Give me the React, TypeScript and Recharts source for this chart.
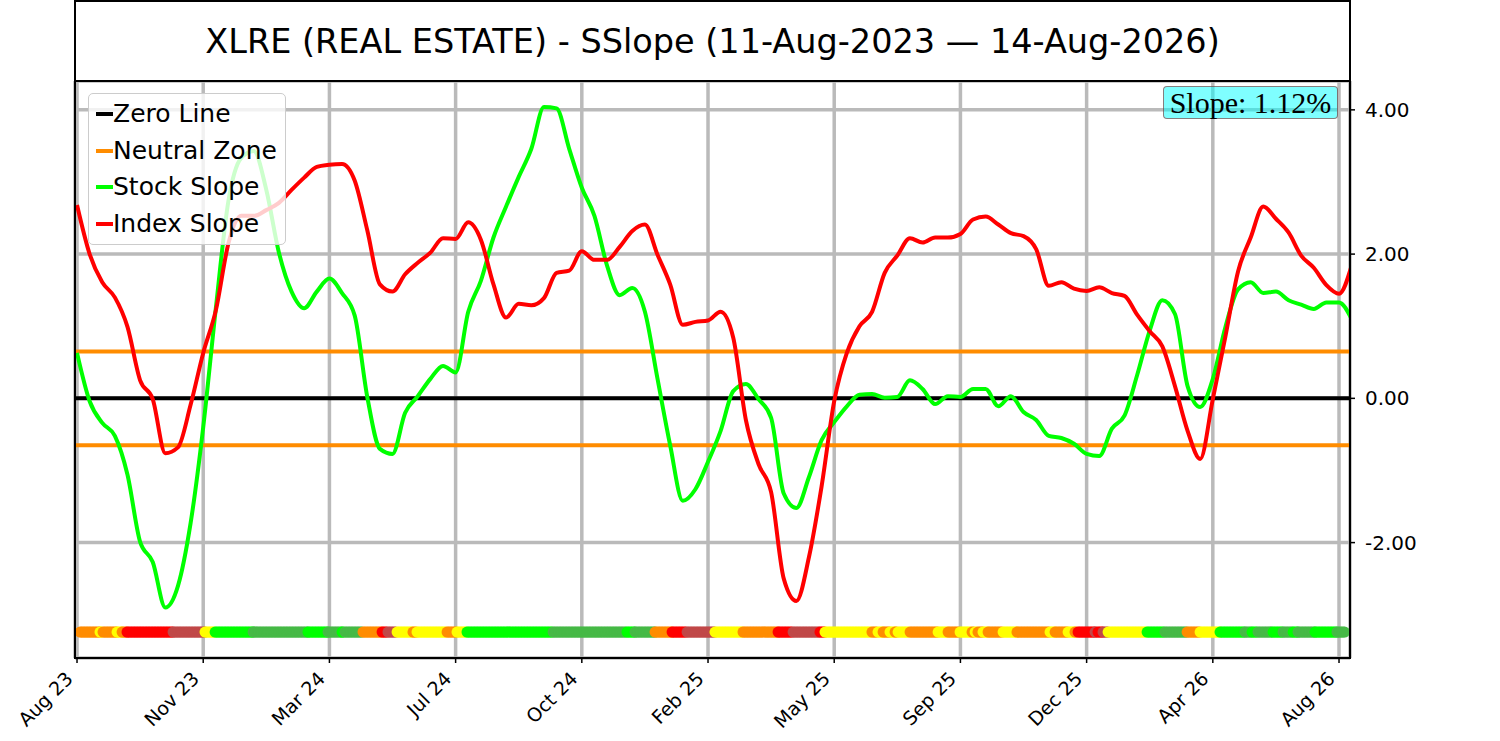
import {
  CartesianGrid,
  ComposedChart,
  Line,
  ReferenceLine,
  Scatter,
  XAxis,
  YAxis,
} from "recharts";

// x is a sample index: 10 samples per month tick
const X_TICKS = [0, 10, 20, 30, 40, 50, 60, 70, 80, 90, 100];
const MONTH_LABELS = ["Aug 23", "Nov 23", "Mar 24", "Jul 24", "Oct 24", "Feb 25", "May 25", "Sep 25", "Dec 25", "Apr 26", "Aug 26"];
const Y_TICKS = [-2, 0, 2, 4];

const STOCK_SLOPE = [
  0.63, -0.04, -0.34, -0.52, -1.06, -1.99, -2.27, -2.9, -2.6, -1.73,
  -0.4, 1.25, 2.74, 3.33, 3.43, 2.89, 2.02, 1.48, 1.25, 1.48,
  1.66, 1.46, 1.15, 0.02, -0.7, -0.77, -0.2, 0.03, 0.27, 0.45,
  0.36, 1.2, 1.63, 2.23, 2.66, 3.07, 3.46, 4.04, 4.02, 3.46,
  2.92, 2.53, 1.84, 1.43, 1.53, 1.2, 0.27, -0.65, -1.42, -1.26,
  -0.88, -0.45, 0.1, 0.2, -0.01, -0.27, -1.32, -1.52, -1.09, -0.58,
  -0.33, -0.11, 0.05, 0.06, 0.01, 0.02, 0.25, 0.13, -0.08, 0.03,
  0.02, 0.13, 0.13, -0.11, 0.03, -0.19, -0.3, -0.52, -0.55, -0.63,
  -0.77, -0.8, -0.42, -0.24, 0.32, 0.94, 1.36, 1.17, 0.17, -0.12,
  0.27, 0.99, 1.51, 1.61, 1.46, 1.48, 1.36, 1.3, 1.24, 1.33,
  1.33, 1.1,
];

const INDEX_SLOPE = [
  2.68, 2.0, 1.61, 1.4, 0.99, 0.25, -0.01, -0.76, -0.68, -0.09,
  0.63, 1.22, 2.15, 2.53, 2.53, 2.61, 2.71, 2.89, 3.06, 3.21,
  3.24, 3.25, 3.02, 2.33, 1.58, 1.48, 1.72, 1.88, 2.02, 2.22,
  2.21, 2.44, 2.2, 1.58, 1.12, 1.31, 1.29, 1.39, 1.74, 1.77,
  2.04, 1.92, 1.92, 2.1, 2.32, 2.41, 1.99, 1.58, 1.02, 1.06,
  1.08, 1.2, 0.84, -0.3, -0.91, -1.3, -2.5, -2.81, -2.2, -1.22,
  -0.04, 0.63, 1.0, 1.2, 1.74, 1.98, 2.22, 2.16, 2.23, 2.23,
  2.28, 2.48, 2.52, 2.41, 2.29, 2.25, 2.07, 1.56, 1.61, 1.52,
  1.49, 1.54, 1.46, 1.42, 1.16, 0.93, 0.72, 0.17, -0.45, -0.84,
  -0.01, 0.86, 1.76, 2.23, 2.66, 2.49, 2.3, 1.98, 1.81, 1.57,
  1.45, 1.84,
];

const ZERO_LEVEL = 0;
const NEUTRAL_HI = 0.65;
const NEUTRAL_LO = -0.65;

// signal band along the bottom: each run starts at an index and keeps its colour until the next
const BAND_LEVEL = -3.24;
const BAND_END = 100.48;
const BAND_STARTS = [
  0.24, 1.82, 2.06, 3.17, 3.57, 3.96, 7.61, 10.14, 10.94, 13.95,
  18.3, 19.89, 21.0, 21.24, 22.66, 24.17, 24.64, 25.36, 26.62, 26.94,
  29.32, 30.11, 30.9, 37.72, 43.58, 44.22, 45.8, 47.15, 48.34, 50.55,
  52.77, 55.55, 56.74, 58.87, 59.27, 62.99, 63.47, 63.87, 64.42, 64.82,
  65.06, 66.01, 68.23, 69.02, 69.97, 70.92, 71.16, 71.39, 71.79, 72.19,
  73.38, 74.48, 77.1, 77.5, 78.53, 79.08, 79.32, 80.67, 80.9, 81.3,
  81.7, 84.79, 86.21, 87.96, 88.99, 90.57, 92.55, 93.11, 93.58, 94.77,
  95.56, 96.36, 96.75, 98.1, 99.84,
];
const BAND_COLORS = [
  "O", "Y", "O", "Y", "O", "R", "B", "Y", "G", "M",
  "G", "M", "G", "M", "O", "R", "B", "Y", "O", "Y",
  "O", "Y", "G", "M", "G", "M", "O", "R", "B", "Y",
  "O", "R", "B", "R", "Y", "O", "Y", "O", "Y", "O",
  "Y", "O", "Y", "O", "Y", "O", "Y", "O", "Y", "O",
  "Y", "O", "Y", "O", "Y", "O", "R", "B", "R", "B",
  "Y", "G", "M", "O", "Y", "G", "M", "G", "M", "G",
  "M", "G", "M", "G", "M",
];
const BAND_PALETTE: Record<string, string> = {
  O: "#ff8c00",
  Y: "#ffff00",
  R: "#ff0000",
  B: "#c04848",
  G: "#00ff00",
  M: "#46b946",
};

const LEGEND_ITEMS = [
  { label: "Zero Line", color: "#000000" },
  { label: "Neutral Zone", color: "#ff8c00" },
  { label: "Stock Slope", color: "#00ff00" },
  { label: "Index Slope", color: "#ff0000" },
];

const rows = STOCK_SLOPE.map((v, i) => ({ idx: i, stock: v, index: INDEX_SLOPE[i] }));

const DOT_STEP = 0.12;
const bandDots: { idx: number; band: number; color: string }[] = [];
BAND_STARTS.forEach((s, k) => {
  const last = k === BAND_STARTS.length - 1;
  const end = last ? BAND_END : BAND_STARTS[k + 1];
  for (let x = s; last ? x <= end : x < end - 1e-9; x += DOT_STEP) {
    bandDots.push({ idx: x, band: BAND_LEVEL, color: BAND_PALETTE[BAND_COLORS[k]] });
  }
});

const FONT = "DejaVu Sans";

function MonthTick(props: any) {
  const { x, payload } = props;
  const label = MONTH_LABELS[X_TICKS.indexOf(payload.value)] ?? "";
  const ax = x - 3;
  const ay = 680;
  return (
    <text
      x={ax}
      y={ay}
      textAnchor="end"
      transform={`rotate(-45 ${ax} ${ay})`}
      fontSize={19}
      fontFamily={FONT}
      fill="#000"
    >
      {label}
    </text>
  );
}

function BandDot(props: any) {
  const { cx, cy, payload } = props;
  if (cx == null || cy == null) return null;
  return <circle cx={cx} cy={cy} r={5.5} fill={payload.color} />;
}

export default function App() {
  return (
    <div
      style={{
        position: "absolute",
        left: 0,
        top: 0,
        width: 1500,
        height: 741,
        background: "#fff",
        fontFamily: FONT,
        overflow: "hidden",
      }}
    >
      <ComposedChart
        width={1500}
        height={741}
        data={rows}
        margin={{ top: 81, right: 70, bottom: 23, left: 75 }}
      >
        <CartesianGrid stroke="#bababa" strokeWidth={3.5} />
        <XAxis
          dataKey="idx"
          type="number"
          domain={[-0.16, 100.87]}
          allowDataOverflow
          ticks={X_TICKS}
          interval={0}
          tick={<MonthTick />}
          tickSize={5}
          tickLine={{ stroke: "#000", strokeWidth: 1.5 }}
          axisLine={false}
          height={60}
        />
        <YAxis
          orientation="right"
          type="number"
          domain={[-3.6, 4.4]}
          allowDataOverflow
          ticks={Y_TICKS}
          interval={0}
          tickFormatter={(v: number) => v.toFixed(2)}
          width={80}
          tickSize={5}
          tickMargin={10}
          tickLine={{ stroke: "#000", strokeWidth: 1.5 }}
          axisLine={false}
          tick={{ fill: "#000", fontSize: 20, fontFamily: FONT }}
        />
        <ReferenceLine y={ZERO_LEVEL} stroke="#000" strokeWidth={4} />
        <ReferenceLine y={NEUTRAL_HI} stroke="#ff8c00" strokeWidth={4} />
        <ReferenceLine y={NEUTRAL_LO} stroke="#ff8c00" strokeWidth={4} />
        <Line
          type="monotone"
          dataKey="stock"
          stroke="#00ff00"
          strokeWidth={4}
          dot={false}
          isAnimationActive={false}
        />
        <Line
          type="monotone"
          dataKey="index"
          stroke="#ff0000"
          strokeWidth={4}
          dot={false}
          isAnimationActive={false}
        />
        <Scatter data={bandDots} dataKey="band" shape={BandDot} isAnimationActive={false} />
      </ComposedChart>

      {/* title box */}
      <div
        style={{
          position: "absolute",
          left: 74,
          top: 0,
          width: 1277,
          height: 82,
          boxSizing: "border-box",
          border: "2px solid #000",
          display: "flex",
          alignItems: "center",
          justifyContent: "center",
          fontSize: 33.5,
          color: "#000",
          background: "#fff",
        }}
      >
        XLRE (REAL ESTATE) - SSlope (11-Aug-2023 — 14-Aug-2026)
      </div>

      {/* plot frame */}
      <div
        style={{
          position: "absolute",
          left: 74,
          top: 80,
          width: 1277,
          height: 579,
          boxSizing: "border-box",
          border: "2px solid #000",
          pointerEvents: "none",
        }}
      />

      {/* legend */}
      <div
        style={{
          position: "absolute",
          left: 88,
          top: 93,
          width: 198,
          height: 152,
          boxSizing: "border-box",
          background: "rgba(255,255,255,0.8)",
          border: "1.5px solid #cccccc",
          borderRadius: 5,
        }}
      >
        {LEGEND_ITEMS.map((item, k) => (
          <div
            key={item.label}
            style={{
              position: "absolute",
              left: 0,
              top: 2 + k * 36.5,
              height: 36,
              display: "flex",
              alignItems: "center",
            }}
          >
            <span
              style={{
                display: "inline-block",
                marginLeft: 7,
                width: 17,
                height: 4,
                background: item.color,
              }}
            />
            <span style={{ fontSize: 25, lineHeight: "36px", color: "#000", whiteSpace: "nowrap" }}>
              {item.label}
            </span>
          </div>
        ))}
      </div>

      {/* slope box */}
      <div
        style={{
          position: "absolute",
          left: 1163,
          top: 86,
          width: 175,
          height: 33,
          boxSizing: "border-box",
          background: "rgba(0,255,255,0.5)",
          border: "1.5px solid rgba(139,0,0,0.5)",
          borderRadius: 4,
          display: "flex",
          alignItems: "center",
          justifyContent: "center",
          fontFamily: "Liberation Serif",
          fontSize: 30,
          color: "#000",
          whiteSpace: "nowrap",
        }}
      >
        Slope: 1.12%
      </div>
    </div>
  );
}
